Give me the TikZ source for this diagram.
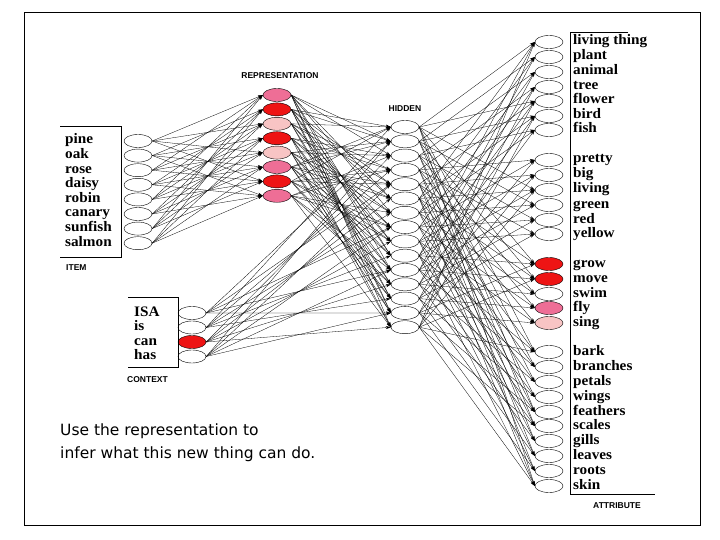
\documentclass[tikz,border=0pt]{standalone}
\usepackage{fontspec}
\setmainfont{Liberation Serif}
\newfontfamily\capfont{Liberation Sans}
\newfontfamily\notefont{DejaVu Sans}
\usetikzlibrary{shapes.geometric,arrows.meta}
\definecolor{unitred}{RGB}{238,20,20}
\definecolor{unitpink}{RGB}{238,110,150}
\definecolor{unitlight}{RGB}{248,196,196}
\tikzset{
  unit/.style={draw, ellipse, line width=0.4pt, minimum width=28pt, minimum height=13pt, inner sep=0pt},
  conn/.style={line width=0.3pt, -{Stealth[length=5pt,width=3pt]}},
  lbl/.style={anchor=west, font=\bfseries\fontsize{14.5}{14.5}\selectfont, inner sep=0pt, text height=8pt, text depth=2pt, xscale=1.05},
  layercap/.style={font=\capfont\bfseries\fontsize{8.5}{8.5}\selectfont, inner sep=0pt}
}
\begin{document}
\begin{tikzpicture}[x=1pt, y=-1pt]
    \useasboundingbox (0,0) rectangle (720,540);
    % outer frame
    \draw[line width=0.6pt] (24,12) rectangle (700,525);

    % item layer
    \foreach \t [count=\n] in {pine,oak,rose,daisy,robin,canary,sunfish,salmon}{
      \node[unit] (it\n) at (138,{141+(\n-1)*14.6}) {};
      \node[lbl] (itl\n) at (65,{141+(\n-1)*14.6}) {\t};
    }
    \draw (60,126) -- (121,126) -- (121,257) -- (60,257);
    \node[layercap, anchor=west] (itcap) at (66,268) {ITEM};

    % representation layer
    \foreach \c [count=\n] in {unitpink,unitred,unitlight,unitred,unitlight,unitpink,unitred,unitpink}{
      \node[unit, fill=\c] (rep\n) at (277,{95+(\n-1)*14.4}) {};
    }
    \node[layercap] (repcap) at (280,76) {REPRESENTATION};

    % context layer
    \foreach \t/\c [count=\n] in {ISA/white,is/white,can/unitred,has/white}{
      \node[unit, fill=\c] (ctx\n) at (192,{313+(\n-1)*14.5}) {};
      \node[lbl] (ctxl\n) at (134,{313+(\n-1)*14.5}) {\t};
    }
    \draw (128,297) -- (178,297) -- (178,367) -- (128,367);
    \node[layercap, anchor=west] (ctxcap) at (127,380) {CONTEXT};

    % hidden layer
    \foreach \n in {1,...,15}{
      \node[unit] (hid\n) at (405,{127+(\n-1)*14.3}) {};
    }
    \node[layercap] (hidcap) at (405,109) {HIDDEN};

    % attribute layer
    \foreach \t/\y/\c [count=\n] in {living thing/42/white,plant/57/white,animal/72/white,tree/87/white,flower/101/white,bird/116/white,fish/130/white,
      pretty/160/white,big/175/white,living/190/white,green/205/white,red/220/white,yellow/234/white,
      grow/264/unitred,move/279/unitred,swim/294/white,fly/308/unitpink,sing/323/unitlight,
      bark/352/white,branches/367/white,petals/382/white,wings/397/white,feathers/412/white,scales/426/white,gills/441/white,leaves/456/white,roots/471/white,skin/486/white}{
      \node[unit, fill=\c] (att\n) at (549,\y) {};
      \node[lbl] (attl\n) at (573,\y) {\t};
    }
    \draw (628,32) -- (570,32) -- (570,494) -- (655,494);
    \node[layercap] (attcap) at (617,506) {ATTRIBUTE};

    % connections
    \foreach \i in {1,...,8}{
      \foreach \j in {1,...,8}{
        \pgfmathtruncatemacro\k{mod(\i*5+\j*3,4)}
        \ifnum\k=0 \draw[conn] (it\i.east) -- (rep\j.west); \fi
        \ifnum\k=2 \draw[conn] (it\i.east) -- (rep\j.west); \fi
      }
    }
    \foreach \i in {1,...,8}{
      \foreach \j in {1,...,15}{
        \pgfmathtruncatemacro\k{mod(\i*7+\j*3,4)}
        \ifnum\k<2 \draw[conn] (rep\i.east) -- (hid\j.west); \fi
      }
    }
    \foreach \i in {1,...,4}{
      \foreach \j in {1,...,15}{
        \pgfmathtruncatemacro\k{mod(\i*5+\j*2,3)}
        \ifnum\k=0 \draw[conn] (ctx\i.east) -- (hid\j.west); \fi
      }
    }
    \foreach \i in {1,...,15}{
      \foreach \j in {1,...,28}{
        \pgfmathtruncatemacro\k{mod(\i*11+\j*7,9)}
        \ifnum\k<2 \draw[conn] (hid\i.east) -- (att\j.west); \fi
      }
    }

    % note
    \node[anchor=west, align=left, font=\notefont\fontsize{15.5}{23}\selectfont, inner sep=0pt] (note) at (60,443)
      {Use the representation to\\infer what this new thing can do.};
\end{tikzpicture}
\end{document}
